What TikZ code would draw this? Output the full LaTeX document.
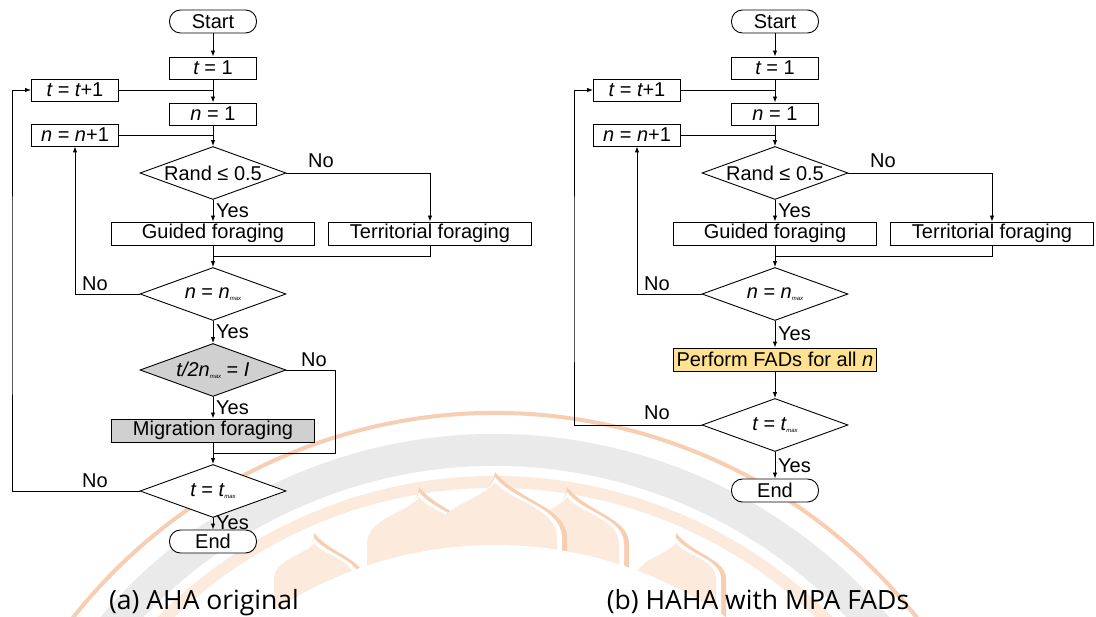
\documentclass[tikz,border=0pt]{standalone}
\usepackage{fontspec}
\setmainfont{Liberation Sans}
\newfontfamily\capfont{Open Sans}
\usetikzlibrary{shapes.geometric,arrows.meta,calc}
\definecolor{boxgray}{RGB}{208,208,208}
\definecolor{fadfill}{RGB}{255,226,145}
\definecolor{wmgray}{RGB}{234,234,234}
\definecolor{wmor}{RGB}{252,234,220}
\definecolor{wmorline}{RGB}{247,206,178}
\newcommand\fs{\fontsize{20}{20}\selectfont}
\newcommand\mx{\raisebox{-0.12em}{\fontsize{6}{6}\selectfont\itshape max}}
\newcommand\zw[1]{\makebox[0pt]{#1}}
\newcommand\wmpetal[4]{%
 \fill[#4] ({#1-#3},640) -- ({#1-#3},{#2+0.9*#3}) .. controls ({#1-#3},{#2+0.4*#3}) and ({#1-0.2*#3},{#2+0.3*#3}) .. (#1,#2) .. controls ({#1+0.2*#3},{#2+0.3*#3}) and ({#1+#3},{#2+0.4*#3}) .. ({#1+#3},{#2+0.9*#3}) -- ({#1+#3},640) -- cycle;}
\newcommand\wmlotus[3]{%
 \wmpetal{#1}{#2-10}{#3+10}{wmorline}
 \wmpetal{#1}{#2-5}{#3+5}{white}
 \wmpetal{#1}{#2}{#3}{wmor}}
\begin{document}
\begin{tikzpicture}[x=1pt,y=-1pt,
  base/.style={draw, line width=0.9pt, inner sep=0pt, font=\fs, fill=white},
  proc/.style={base, rectangle, minimum width=87pt, minimum height=22pt},
  wide/.style={base, rectangle, minimum width=203pt, minimum height=23pt},
  term/.style={base, rectangle, rounded corners=11pt, minimum width=87pt, minimum height=23pt},
  dec/.style={base, diamond, minimum width=146pt, minimum height=53pt},
  arr/.style={-{Latex[length=6pt,width=4.5pt]}, line width=0.9pt},
  ln/.style={line width=0.9pt},
  lbl/.style={font=\fs, inner sep=0pt},
  captext/.style={font=\capfont\fontsize{26.5}{28}\selectfont, inner sep=0pt, anchor=base}]
\useasboundingbox (0,0) rectangle (1096,617);
\fill[white] (0,0) rectangle (1096,617);
% watermark
\begin{scope}
\clip (0,0) rectangle (1096,617);
\draw[wmorline, line width=4] (495,950) ++(195:537) arc[start angle=195,end angle=345,radius=537];
\draw[wmgray, line width=32] (495,950) ++(195:500) arc[start angle=195,end angle=345,radius=500];
\draw[wmor, line width=12] (495,950) ++(195:468) arc[start angle=195,end angle=345,radius=468];
\wmlotus{314}{543}{40}
\wmlotus{676}{543}{40}
\wmlotus{419}{497}{52}
\wmlotus{567}{497}{52}
\wmlotus{495}{482}{62}
\fill[white] (495,950) circle[radius=405];
\end{scope}
% ---------------- (a) ----------------
\node[term] (sa) at (213,21.5) {Start};
\node[proc] (ta) at (213,68) {{\itshape t} = 1};
\node[proc] (tia) at (75,90) {{\itshape t} = {\itshape t}+1};
\node[proc] (na) at (213,114) {{\itshape n} = 1};
\node[proc] (nia) at (75,135) {{\itshape n} = {\itshape n}+1};
\node[dec] (ra) at (213,173) {\zw{Rand ≤ 0.5}};
\node[wide] (ga) at (213,233.5) {Guided foraging};
\node[wide] (tra) at (430,233.5) {Territorial foraging};
\node[dec] (nma) at (213,294) {\zw{{\itshape n} = {\itshape n}\mx}};
\node[dec, fill=boxgray] (tda) at (213,370) {\zw{{\itshape t/2n}\mx\ = {\itshape I}}};
\node[wide, fill=boxgray] (mga) at (213,430.5) {Migration foraging};
\node[dec] (tma) at (213,491) {\zw{{\itshape t} = {\itshape t}\mx}};
\node[term] (ea) at (213,541.5) {End};
\coordinate (ma1) at (213,256);
\coordinate (ma2) at (213,453);
\coordinate (ca1) at (335,453);
\coordinate (la) at (12,300);
\draw[arr] (sa) -- (ta);
\draw[arr] (ta) -- (na);
\draw[ln] (tia.east) -- (tia.east -| ta.south);
\draw[arr] (na) -- (ra);
\draw[ln] (nia.east) -- (nia.east -| na.south);
\draw[arr] (ra) -- (ga);
\draw[arr] (ra.east) -| (tra.north);
\draw[arr] (ga) -- (nma);
\draw[ln] (tra.south) |- (ma1);
\draw[arr] (nma.west) -| (nia.south);
\draw[arr] (nma) -- (tda);
\draw[arr] (tda) -- (mga);
\draw[ln] (tda.east) -| (ca1) -- (ma2);
\draw[arr] (mga) -- (tma);
\draw[arr] (tma.west) -| (la) |- (tia.west);
\draw[arr] (tma) -- (ea);
\node[lbl] (noa1) at (321,161) {No};
\node[lbl, anchor=west] (ya1) at (216,211) {Yes};
\node[lbl] (noa2) at (95,284) {No};
\node[lbl, anchor=west] (ya2) at (216,332) {Yes};
\node[lbl] (noa3) at (314,360) {No};
\node[lbl, anchor=west] (ya3) at (216,408) {Yes};
\node[lbl] (noa4) at (95,481) {No};
\node[lbl, anchor=west] (ya4) at (216,523) {Yes};
% ---------------- (b) ----------------
\node[term] (sb) at (775,21.5) {Start};
\node[proc] (tb) at (775,68) {{\itshape t} = 1};
\node[proc] (tib) at (637,90) {{\itshape t} = {\itshape t}+1};
\node[proc] (nb) at (775,114) {{\itshape n} = 1};
\node[proc] (nib) at (637,135) {{\itshape n} = {\itshape n}+1};
\node[dec] (rb) at (775,173) {\zw{Rand ≤ 0.5}};
\node[wide] (gb) at (775,233.5) {Guided foraging};
\node[wide] (trb) at (992,233.5) {Territorial foraging};
\node[dec] (nmb) at (775,294) {\zw{{\itshape n} = {\itshape n}\mx}};
\node[wide, fill=fadfill] (fb) at (775,359.5) {Perform FADs for all {\itshape n}};
\node[dec] (tmb) at (775,425) {\zw{{\itshape t} = {\itshape t}\mx}};
\node[term] (eb) at (775,490.5) {End};
\coordinate (mb1) at (775,256);
\coordinate (lb) at (574,300);
\draw[arr] (sb) -- (tb);
\draw[arr] (tb) -- (nb);
\draw[ln] (tib.east) -- (tib.east -| tb.south);
\draw[arr] (nb) -- (rb);
\draw[ln] (nib.east) -- (nib.east -| nb.south);
\draw[arr] (rb) -- (gb);
\draw[arr] (rb.east) -| (trb.north);
\draw[arr] (gb) -- (nmb);
\draw[ln] (trb.south) |- (mb1);
\draw[arr] (nmb.west) -| (nib.south);
\draw[arr] (nmb) -- (fb);
\draw[arr] (fb) -- (tmb);
\draw[arr] (tmb.west) -| (lb) |- (tib.west);
\draw[arr] (tmb) -- (eb);
\node[lbl] (nob1) at (883,161) {No};
\node[lbl, anchor=west] (yb1) at (778,211) {Yes};
\node[lbl] (nob2) at (657,284) {No};
\node[lbl, anchor=west] (yb2) at (778,334) {Yes};
\node[lbl] (nob3) at (657,413) {No};
\node[lbl, anchor=west] (yb3) at (778,466) {Yes};
% captions
\node[captext] (capa) at (204,609) {(a) AHA original};
\node[captext] (capb) at (758,609) {(b) HAHA with MPA FADs};
\end{tikzpicture}
\end{document}
